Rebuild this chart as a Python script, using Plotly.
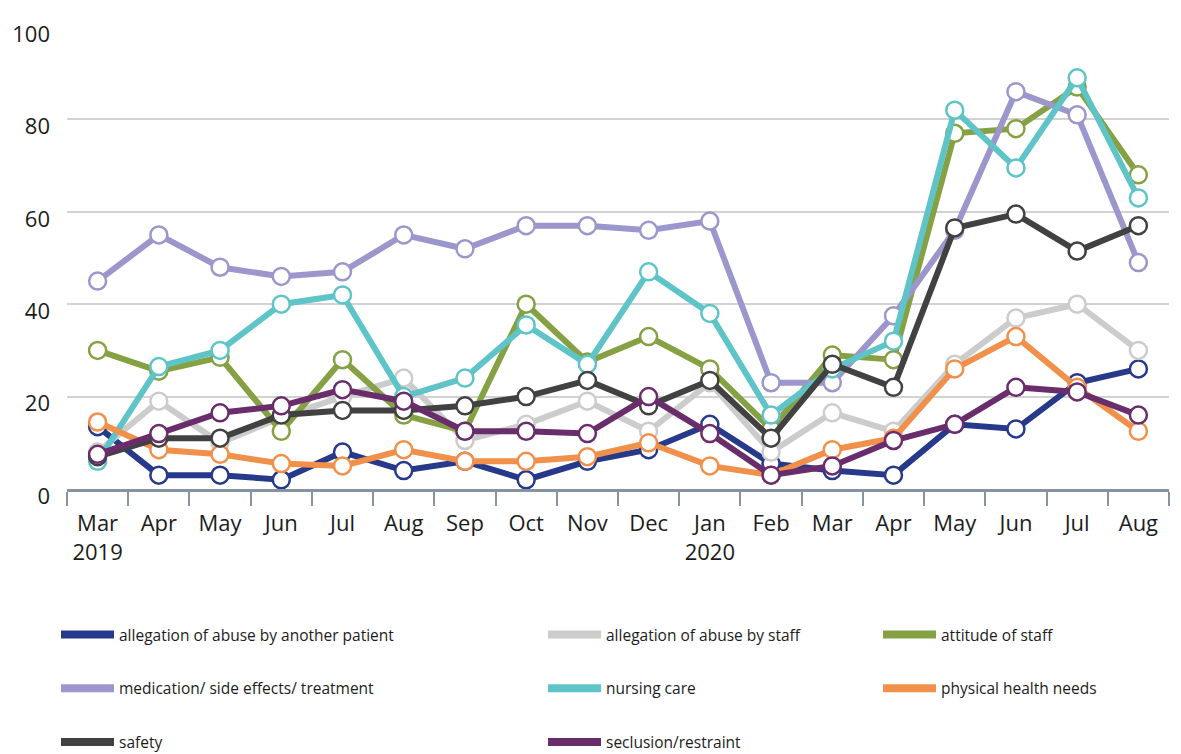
import plotly.graph_objects as go

# Monthly counts by complaint category, March 2019 – August 2020
months = ["Mar", "Apr", "May", "Jun", "Jul", "Aug", "Sep", "Oct", "Nov",
          "Dec", "Jan", "Feb", "Mar", "Apr", "May", "Jun", "Jul", "Aug"]
year_marks = {0: "2019", 10: "2020"}

abuse_by_patient = [13.5, 3, 3, 2, 8, 4, 6, 2, 6, 8.5, 14, 5.5, 4, 3, 14, 13, 23, 26]
abuse_by_staff = [8, 19, 10, 15.5, 20, 24, 10.5, 14, 19, 12.5, 23, 8, 16.5, 12.5, 27, 37, 40, 30]
attitude_of_staff = [30, 25.5, 28.5, 12.5, 28, 16, 12.5, 40, 27.5, 33, 26, 13, 29, 28, 77, 78, 87, 68]
medication = [45, 55, 48, 46, 47, 55, 52, 57, 57, 56, 58, 23, 23, 37.5, 56, 86, 81, 49]
nursing_care = [6, 26.5, 30, 40, 42, 20, 24, 35.5, 27, 47, 38, 16, 26, 32, 82, 69.5, 89, 63]
physical_health = [14.5, 8.5, 7.5, 5.5, 5, 8.5, 6, 6, 7, 10, 5, 3, 8.5, 11, 26, 33, 22, 12.5]
safety = [7, 11, 11, 16, 17, 17, 18, 20, 23.5, 18, 23.5, 11, 27, 22, 56.5, 59.5, 51.5, 57]
seclusion = [7.5, 12, 16.5, 18, 21.5, 19, 12.5, 12.5, 12, 20, 12, 3, 5, 10.5, 14, 22, 21, 16]

# (name, values, colour, legend column)
series = [
    ("allegation of abuse by another patient", abuse_by_patient, "#26398a", "legend"),
    ("allegation of abuse by staff", abuse_by_staff, "#cccccc", "legend2"),
    ("attitude of staff", attitude_of_staff, "#85a143", "legend3"),
    ("medication/ side effects/ treatment", medication, "#9b97cc", "legend"),
    ("nursing care", nursing_care, "#5ec4c7", "legend2"),
    ("physical health needs", physical_health, "#f0904a", "legend3"),
    ("safety", safety, "#414141", "legend"),
    ("seclusion/restraint", seclusion, "#6a2d6c", "legend2"),
]

x = list(range(len(months)))
tick_text = [m + ("<br>" + year_marks[i] if i in year_marks else "") for i, m in enumerate(months)]

FONT = "Open Sans"
TEXT = "#1c1c1c"

fig = go.Figure()

for name, values, colour, leg in series:
    fig.add_trace(go.Scatter(
        x=x, y=values, mode="lines+markers", name=name,
        line=dict(color=colour, width=6),
        marker=dict(size=17, color="white", line=dict(color=colour, width=2.5)),
        showlegend=False, cliponaxis=False,
    ))

# legend entries: plain line samples
for name, values, colour, leg in series:
    fig.add_trace(go.Scatter(
        x=[None], y=[None], mode="lines", name=name,
        line=dict(color=colour, width=8),
        legend=leg, legendgroup=name, showlegend=True,
    ))

legend_common = dict(
    orientation="v", xref="container", yref="container",
    xanchor="left", yanchor="top", tracegroupgap=30.5, itemwidth=53,
    font=dict(family=FONT, size=15.5, color=TEXT), bgcolor="rgba(0,0,0,0)",
)

fig.update_layout(
    width=1181, height=754,
    margin=dict(l=67, r=12, t=27, b=265, autoexpand=False),
    paper_bgcolor="white", plot_bgcolor="white",
    font=dict(family=FONT, color=TEXT),
    legend=dict(x=56 / 1181, y=1 - 618 / 754, **legend_common),
    legend2=dict(x=543 / 1181, y=1 - 618 / 754, **legend_common),
    legend3=dict(x=878 / 1181, y=1 - 618 / 754, **legend_common),
    xaxis=dict(
        range=[-0.5, len(months) - 0.5],
        tickmode="array", tickvals=x, ticktext=tick_text,
        ticks="", showgrid=False, zeroline=False,
        showline=True, linecolor="#8693a1", linewidth=2.5,
        tickfont=dict(family=FONT, size=22, color=TEXT),
        ticklabelstandoff=13,
        minor=dict(tickmode="array", tickvals=[i - 0.5 for i in range(len(months) + 1)],
                   ticks="outside", ticklen=14, tickwidth=1.5, tickcolor="#8693a1",
                   showgrid=False),
    ),
    yaxis=dict(
        range=[0, 100], tickmode="array", tickvals=[0, 20, 40, 60, 80, 100],
        showgrid=True, gridcolor="#d2d2d2", gridwidth=1.5,
        zeroline=False, showline=False, ticks="",
        tickfont=dict(family=FONT, size=22, color=TEXT),
        ticklabelstandoff=16, ticklabelshift=7,
    ),
)

fig.write_html("out.html")
